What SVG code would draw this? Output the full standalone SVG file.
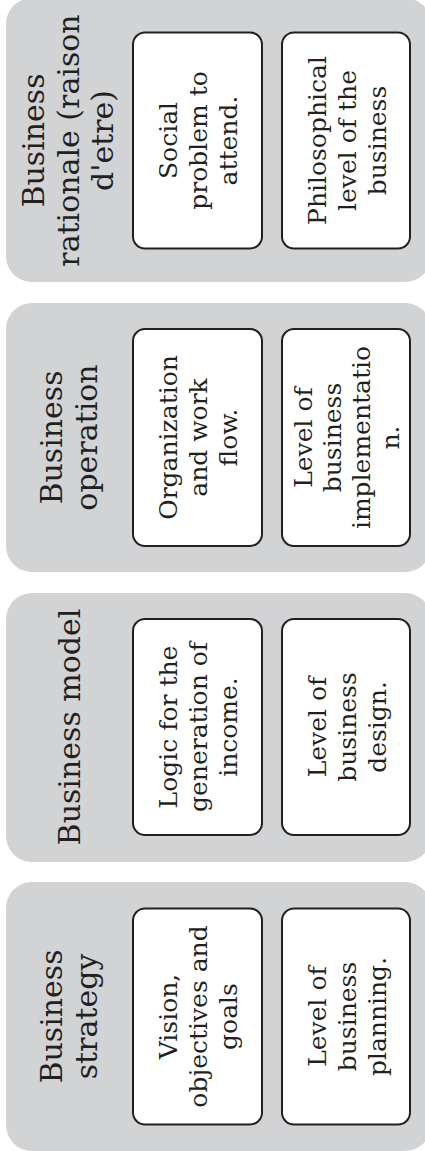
<svg xmlns="http://www.w3.org/2000/svg" width="425" height="1151" viewBox="0 0 425 1151">
<style>
.panel{fill:#d1d3d4;}
.box{fill:#ffffff;stroke:#231f20;stroke-width:2;}
.t{font-family:"DejaVu Serif","Liberation Serif",serif;fill:#231f20;text-anchor:middle;}
.title{font-size:30px;}
.inner{font-size:25px;}
</style>
<rect width="425" height="1151" fill="#ffffff"/>
<g id="rationale">
<rect class="panel" x="6" y="-2" width="425" height="284" rx="26"/>
<rect class="box" x="133" y="32.5" width="129" height="216" rx="12"/>
<rect class="box" x="282" y="32.5" width="128" height="216" rx="12"/>
<g transform="translate(0,140.5) rotate(-90)">
<text class="t title"><tspan x="0" y="44">Business</tspan><tspan x="0" y="79">rationale (raison</tspan><tspan x="0" y="113">d'etre)</tspan></text>
<text class="t inner"><tspan x="0" y="177">Social</tspan><tspan x="0" y="207">problem to</tspan><tspan x="0" y="237">attend.</tspan></text>
<text class="t inner"><tspan x="0" y="326">Philosophical</tspan><tspan x="0" y="356">level of the</tspan><tspan x="0" y="386">business</tspan></text>
</g>
</g>
<g id="operation">
<rect class="panel" x="6" y="303" width="425" height="269" rx="26"/>
<rect class="box" x="133" y="329" width="129" height="217" rx="12"/>
<rect class="box" x="282" y="329" width="128" height="217" rx="12"/>
<g transform="translate(0,437.5) rotate(-90)">
<text class="t title"><tspan x="0" y="62">Business</tspan><tspan x="0" y="97">operation</tspan></text>
<text class="t inner"><tspan x="0" y="177">Organization</tspan><tspan x="0" y="207">and work</tspan><tspan x="0" y="237">flow.</tspan></text>
<text class="t inner"><tspan x="0" y="312">Level of</tspan><tspan x="0" y="341">business</tspan><tspan x="0" y="370">implementatio</tspan><tspan x="0" y="399">n.</tspan></text>
</g>
</g>
<g id="model">
<rect class="panel" x="6" y="593" width="425" height="269" rx="26"/>
<rect class="box" x="133" y="619" width="129" height="216" rx="12"/>
<rect class="box" x="282" y="619" width="128" height="216" rx="12"/>
<g transform="translate(0,727) rotate(-90)">
<text class="t title"><tspan x="0" y="80">Business model</tspan></text>
<text class="t inner"><tspan x="0" y="177">Logic for the</tspan><tspan x="0" y="207">generation of</tspan><tspan x="0" y="237">income.</tspan></text>
<text class="t inner"><tspan x="0" y="326">Level of</tspan><tspan x="0" y="356">business</tspan><tspan x="0" y="386">design.</tspan></text>
</g>
</g>
<g id="strategy">
<rect class="panel" x="6" y="882" width="425" height="269" rx="26"/>
<rect class="box" x="133" y="908.5" width="129" height="216" rx="12"/>
<rect class="box" x="282" y="908.5" width="128" height="216" rx="12"/>
<g transform="translate(0,1016.5) rotate(-90)">
<text class="t title"><tspan x="0" y="62">Business</tspan><tspan x="0" y="97">strategy</tspan></text>
<text class="t inner"><tspan x="0" y="177">Vision,</tspan><tspan x="0" y="207">objectives and</tspan><tspan x="0" y="237">goals</tspan></text>
<text class="t inner"><tspan x="0" y="326">Level of</tspan><tspan x="0" y="356">business</tspan><tspan x="0" y="386">planning.</tspan></text>
</g>
</g>
<g id="connectors"></g>
</svg>
